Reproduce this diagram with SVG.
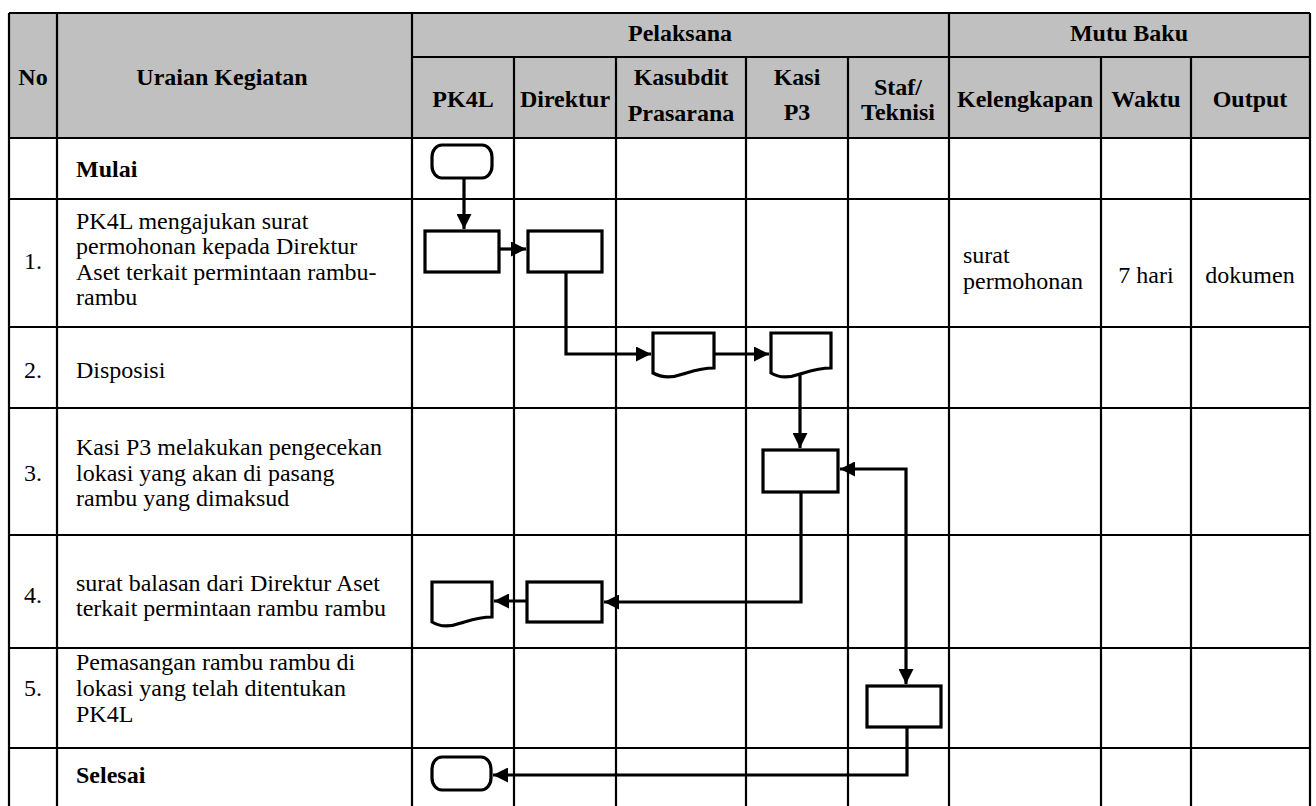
<svg xmlns="http://www.w3.org/2000/svg" width="1316" height="806" viewBox="0 0 1316 806">
<style>
.grid{stroke:#000;stroke-width:2.2;fill:none}
.hdr{fill:#c0c0c0}
.t{font-family:'Liberation Serif','Times New Roman',Times,serif;font-size:24px;fill:#000}
.b{font-weight:bold}
.c{text-anchor:middle}
.shape{fill:#fff;stroke:#000;stroke-width:3.2}
.conn{fill:none;stroke:#000;stroke-width:3.2}
</style>
<defs>
<marker id="arr" markerUnits="userSpaceOnUse" markerWidth="15" markerHeight="15" refX="14" refY="7" orient="auto-start-reverse" viewBox="0 0 14 14">
<path d="M0,0 L14,7 L0,14 z" fill="#000"/>
</marker>
</defs>
<rect width="1316" height="806" fill="#fff"/>
<g id="table">
<rect class="hdr" x="9" y="13" width="1301" height="125"/>
<g class="grid">
<line x1="9" y1="13" x2="1310" y2="13"/>
<line x1="412" y1="57" x2="1310" y2="57"/>
<line x1="9" y1="138" x2="1310" y2="138"/>
<line x1="9" y1="199" x2="1310" y2="199"/>
<line x1="9" y1="327" x2="1310" y2="327"/>
<line x1="9" y1="408" x2="1310" y2="408"/>
<line x1="9" y1="535" x2="1310" y2="535"/>
<line x1="9" y1="648" x2="1310" y2="648"/>
<line x1="9" y1="748" x2="1310" y2="748"/>
<line x1="9" y1="13" x2="9" y2="806"/>
<line x1="57" y1="13" x2="57" y2="806"/>
<line x1="412" y1="13" x2="412" y2="806"/>
<line x1="514" y1="57" x2="514" y2="806"/>
<line x1="616" y1="57" x2="616" y2="806"/>
<line x1="746" y1="57" x2="746" y2="806"/>
<line x1="848" y1="57" x2="848" y2="806"/>
<line x1="949" y1="13" x2="949" y2="806"/>
<line x1="1101" y1="57" x2="1101" y2="806"/>
<line x1="1191" y1="57" x2="1191" y2="806"/>
<line x1="1310" y1="13" x2="1310" y2="806"/>
</g>
</g>
<g id="header-text" class="t b">
<text class="c" x="33" y="85">No</text>
<text class="c" x="222" y="85">Uraian Kegiatan</text>
<text class="c" x="680" y="41">Pelaksana</text>
<text class="c" x="1129" y="41">Mutu Baku</text>
<text class="c" x="463" y="107">PK4L</text>
<text class="c" x="565" y="107">Direktur</text>
<text class="c" x="681" y="85">Kasubdit</text>
<text class="c" x="681" y="121">Prasarana</text>
<text class="c" x="797" y="85">Kasi</text>
<text class="c" x="797" y="120">P3</text>
<text class="c" x="898" y="95">Staf/</text>
<text class="c" x="898" y="120">Teknisi</text>
<text class="c" x="1025" y="107">Kelengkapan</text>
<text class="c" x="1146" y="107">Waktu</text>
<text class="c" x="1250" y="107">Output</text>
</g>
<g id="row-text" class="t">
<text class="b" x="76" y="177">Mulai</text>
<text class="c" x="33" y="269">1.</text>
<text x="76" y="229">PK4L mengajukan surat</text>
<text x="76" y="254">permohonan kepada Direktur</text>
<text x="76" y="280">Aset terkait permintaan rambu-</text>
<text x="76" y="305">rambu</text>
<text x="963" y="263">surat</text>
<text x="963" y="289">permohonan</text>
<text class="c" x="1146" y="283">7 hari</text>
<text class="c" x="1250" y="283">dokumen</text>
<text class="c" x="33" y="378">2.</text>
<text x="76" y="378">Disposisi</text>
<text class="c" x="33" y="481">3.</text>
<text x="76" y="455">Kasi P3 melakukan pengecekan</text>
<text x="76" y="481">lokasi yang akan di pasang</text>
<text x="76" y="506">rambu yang dimaksud</text>
<text class="c" x="33" y="603">4.</text>
<text x="76" y="591">surat balasan dari Direktur Aset</text>
<text x="76" y="616">terkait permintaan rambu rambu</text>
<text class="c" x="33" y="696">5.</text>
<text x="76" y="670">Pemasangan rambu rambu di</text>
<text x="76" y="696">lokasi yang telah ditentukan</text>
<text x="76" y="722">PK4L</text>
<text class="b" x="76" y="783">Selesai</text>
</g>
<g id="node-start"><rect class="shape" x="432" y="145" width="60" height="33" rx="10" ry="12"/></g>
<g id="node-1-pk4l"><rect class="shape" x="425" y="231" width="74" height="41"/></g>
<g id="node-1-direktur"><rect class="shape" x="528" y="231" width="74" height="41"/></g>
<g id="node-2-kasubdit"><path class="shape" d="M653,333 H714 V368 C701,368 693,371 683,374 C672,378 662,378 653,373 Z"/></g>
<g id="node-2-kasi"><path class="shape" d="M771,333 H831 V368 C818,368 810,371 800,374 C789,378 779,378 771,373 Z"/></g>
<g id="node-3-kasi"><rect class="shape" x="763" y="450" width="75" height="42"/></g>
<g id="node-4-direktur"><rect class="shape" x="527" y="582" width="75" height="40"/></g>
<g id="node-4-pk4l"><path class="shape" d="M432,582 H492 V617 C479,617 471,620 461,623 C450,627 440,627 432,622 Z"/></g>
<g id="node-5-staf"><rect class="shape" x="867" y="686" width="74" height="41"/></g>
<g id="node-end"><rect class="shape" x="432" y="757" width="59" height="33" rx="10" ry="12"/></g>
<g id="connectors" class="conn">
<path d="M464,178 V229" marker-end="url(#arr)"/>
<path d="M499,249 H526" marker-end="url(#arr)"/>
<path d="M566,272 V354 H651" marker-end="url(#arr)"/>
<path d="M714,354 H769" marker-end="url(#arr)"/>
<path d="M800,375 V448" marker-end="url(#arr)"/>
<path d="M801,492 V602 H604" marker-end="url(#arr)"/>
<path d="M527,601 H494" marker-end="url(#arr)"/>
<path d="M840,469 H906 V684" marker-start="url(#arr)" marker-end="url(#arr)"/>
<path d="M907,727 V775 H493" marker-end="url(#arr)"/>
</g>
</svg>
